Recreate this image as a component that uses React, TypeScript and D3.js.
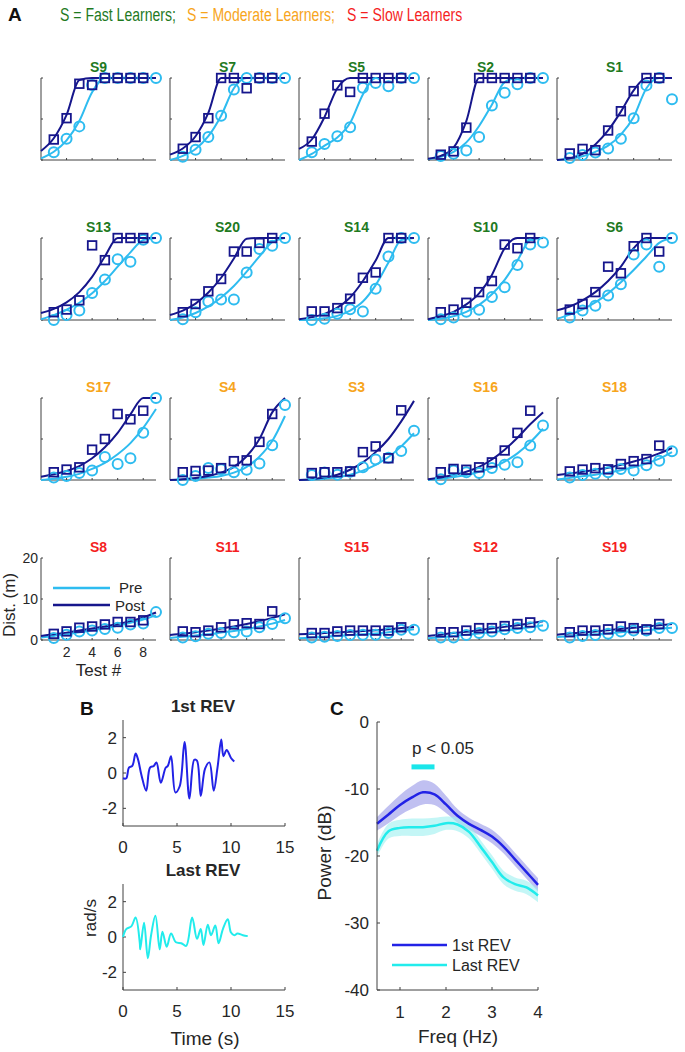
import React from "react";
import * as d3 from "d3";

// ---- panel A data ----
const subjects = ["S9", "S7", "S5", "S2", "S1", "S13", "S20", "S14", "S10", "S6", "S17", "S4", "S3", "S16", "S18", "S8", "S11", "S15", "S12", "S19"];
const learnerGroup = ["fast", "fast", "fast", "fast", "fast", "fast", "fast", "fast", "fast", "fast", "moderate", "moderate", "moderate", "moderate", "moderate", "slow", "slow", "slow", "slow", "slow"];
const testNums = [1, 2, 3, 4, 5, 6, 7, 8, 9];
const fitX = [0, 1, 2, 3, 4, 5, 6, 7, 8, 9];
const xTicks = [2, 4, 6, 8];
const yTicks = [0, 10, 20];

const prePoints = [
  [1.9, 5.2, 8.2, 18.3, 20, 20, 20, 20, 20],
  [0.8, 2.5, 5.6, 10.8, 17.2, 20, 20, 20, 20],
  [1.9, 3.9, 5.8, 8.0, 17.6, 18.8, 18.0, 20, 20],
  [1.0, 1.5, 2.3, 5.6, 13.3, 16.4, 18.5, 20, 20],
  [0.5, 1.2, 1.8, 2.8, 5.2, 10.2, 18.2, 20, 14.8],
  [0.0, 1.2, 2.3, 6.6, 9.9, 14.8, 14.2, 19.6, 20],
  [0.2, 1.9, 4.5, 5.0, 5.0, 11.6, 17.3, 18.1, 20],
  [0.0, 0.3, 1.5, 2.6, 2.1, 7.6, 15.5, 20, 20],
  [0.2, 0.6, 2.0, 2.5, 5.6, 8.0, 13.4, 18.4, 18.9],
  [0.6, 2.3, 3.5, 6.0, 8.7, 16.0, 18.4, 13.0, 20],
  [0.6, 1.0, 1.7, 2.3, 5.6, 3.9, 5.3, 11.5, 20],
  [0.0, 1.0, 2.9, 2.6, 1.9, 2.5, 4.0, 8.5, 18.3],
  [1.2, 1.8, 1.3, 2.0, 3.1, 5.0, 5.4, 7.1, 12.0],
  [0.2, 2.3, 1.9, 1.7, 2.9, 3.7, 4.3, 8.4, 13.3],
  [0.6, 1.2, 1.5, 1.9, 2.7, 2.3, 3.6, 4.7, 7.0],
  [0.5, 1.3, 2.1, 2.3, 2.7, 3.0, 3.8, 4.0, 6.8],
  [0.6, 0.9, 1.5, 1.7, 1.9, 2.1, 3.1, 3.9, 5.3],
  [0.6, 0.8, 1.0, 1.2, 1.3, 1.3, 1.7, 2.5, 2.5],
  [0.6, 0.6, 1.2, 1.7, 2.1, 2.6, 2.9, 3.1, 3.5],
  [0.6, 1.0, 1.2, 1.5, 2.1, 2.3, 2.3, 2.9, 2.9],
];

const postPoints = [
  [5.0, 10.2, 18.6, 18.3, 20, 20, 20, 20],
  [2.75, 5.6, 10.2, 20, 20, 17.5, 20, 20],
  [4.5, 11.3, 18.2, 16.6, 20, 20, 20, 20],
  [1.3, 2.1, 7.9, 20, 20, 20, 20, 20],
  [1.6, 2.7, 2.4, 7.2, 11.9, 16.8, 20, 20],
  [1.9, 2.55, 4.8, 18.2, 14.6, 20, 20, 20],
  [1.9, 3.9, 7.0, 10.0, 16.7, 16.7, 18.8, 20],
  [2.1, 2.1, 2.9, 5.2, 10.3, 11.6, 20, 20],
  [1.9, 2.55, 4.2, 6.8, 9.5, 18.4, 17.5, 20],
  [2.55, 3.9, 6.8, 13.0, 11.4, 18.0, 20, 16.7],
  [1.9, 2.55, 3.1, 7.4, 10.0, 16.1, 14.8, 16.9],
  [1.9, 2.2, 2.3, 2.9, 4.6, 4.8, 9.3, 16.1],
  [1.7, 1.9, 1.9, 2.1, 6.8, 8.2, 5.3, 17.0],
  [1.9, 2.7, 2.5, 3.1, 4.3, 7.2, 11.5, 16.9],
  [2.1, 2.55, 2.9, 2.6, 3.9, 4.6, 5.1, 8.4],
  [1.5, 2.1, 3.0, 3.3, 3.8, 4.4, 4.4, 4.8],
  [2.1, 1.9, 2.3, 3.1, 3.8, 4.1, 3.9, 7.0],
  [1.7, 1.7, 2.1, 2.3, 2.3, 2.3, 2.3, 3.1],
  [1.9, 1.9, 2.3, 2.9, 2.9, 3.4, 3.9, 4.3],
  [1.9, 2.3, 2.3, 2.6, 3.3, 2.9, 2.6, 3.9],
];

const preFit = [
  [0.4, 2.0, 4.8, 9.5, 16.5, 20, 20, 20, 20, 20],
  [0.0, 1.0, 2.7, 5.8, 10.8, 17.5, 20, 20, 20, 20],
  [0.0, 1.5, 3.5, 5.5, 9.0, 16.0, 20, 20, 20, 20],
  [0.2, 0.8, 2.0, 4.3, 8.3, 13.5, 19.0, 20, 20, 20],
  [0.0, 0.3, 0.9, 2.0, 3.5, 6.2, 10.5, 17.5, 20, 20],
  [0.2, 1.2, 2.5, 4.2, 6.5, 9.5, 13.0, 16.5, 19.5, 20],
  [0.0, 0.6, 1.7, 3.3, 5.5, 8.3, 11.8, 15.5, 19.0, 20],
  [0.0, 0.1, 0.4, 1.0, 2.3, 4.5, 8.5, 14.0, 19.5, 20],
  [0.0, 0.3, 0.9, 2.0, 3.7, 6.3, 9.8, 14.5, 19.5, 20],
  [0.3, 1.3, 2.6, 4.3, 6.5, 9.2, 12.2, 15.5, 18.8, 20],
  [0.0, 0.3, 0.8, 1.5, 2.7, 4.2, 6.3, 9.0, 12.7, 17.3],
  [0.0, 0.1, 0.3, 0.6, 1.0, 1.8, 3.2, 5.7, 9.5, 15.6],
  [0.0, 0.1, 0.3, 0.7, 1.3, 2.3, 3.7, 5.6, 8.2, 11.4],
  [0.0, 0.3, 0.7, 1.2, 2.0, 3.0, 4.5, 6.5, 9.2, 12.5],
  [0.1, 0.5, 0.9, 1.3, 1.8, 2.4, 3.1, 4.0, 5.2, 6.8],
  [0.6, 1.0, 1.4, 1.9, 2.4, 2.9, 3.5, 4.2, 5.0, 6.0],
  [0.5, 0.8, 1.1, 1.4, 1.8, 2.2, 2.7, 3.3, 4.0, 4.9],
  [0.4, 0.6, 0.8, 1.0, 1.2, 1.4, 1.6, 1.9, 2.2, 2.6],
  [0.4, 0.7, 1.0, 1.3, 1.6, 1.9, 2.3, 2.7, 3.1, 3.6],
  [0.7, 1.0, 1.2, 1.4, 1.6, 1.9, 2.1, 2.4, 2.7, 3.0],
];

const postFit = [
  [2.2, 5.3, 11.0, 19.5, 20, 20, 20, 20, 20, 20],
  [1.3, 2.8, 5.8, 11.5, 20, 20, 20, 20, 20, 20],
  [2.7, 5.0, 10.5, 17.5, 20, 20, 20, 20, 20, 20],
  [0.3, 1.0, 3.0, 9.5, 20, 20, 20, 20, 20, 20],
  [0.0, 0.4, 1.5, 3.8, 7.2, 11.8, 17.0, 20, 20, 20],
  [1.7, 2.7, 4.3, 6.8, 10.5, 15.5, 20, 20, 20, 20],
  [1.2, 2.3, 4.0, 6.7, 10.3, 15.0, 19.8, 20, 20, 20],
  [0.2, 0.7, 1.5, 3.0, 5.5, 9.5, 14.5, 20, 20, 20],
  [0.2, 0.9, 2.0, 3.8, 6.5, 11.0, 17.5, 20, 20, 20],
  [2.4, 3.3, 4.8, 6.8, 9.5, 13.0, 17.5, 20, 20, 20],
  [0.8, 1.4, 2.2, 3.4, 5.3, 8.0, 11.5, 16.0, 20, 20],
  [0.0, 0.2, 0.5, 1.0, 1.8, 3.2, 5.8, 10.0, 16.5, 20],
  [0.0, 0.2, 0.6, 1.3, 2.5, 4.3, 6.8, 10.0, 14.3, 19.3],
  [0.2, 0.6, 1.2, 2.0, 3.2, 5.0, 7.4, 10.3, 13.6, 16.5],
  [1.2, 1.6, 2.0, 2.5, 3.0, 3.7, 4.5, 5.4, 6.5, 7.8],
  [1.0, 1.4, 1.8, 2.3, 2.8, 3.3, 3.9, 4.6, 5.5, 6.7],
  [1.2, 1.5, 1.9, 2.3, 2.8, 3.3, 3.9, 4.6, 5.4, 6.3],
  [1.4, 1.5, 1.7, 1.8, 2.0, 2.2, 2.4, 2.6, 2.9, 3.2],
  [1.0, 1.3, 1.7, 2.0, 2.4, 2.8, 3.2, 3.6, 4.1, 4.6],
  [1.3, 1.6, 1.8, 2.1, 2.4, 2.7, 3.0, 3.3, 3.6, 3.9],
];

// ---- panel B data ----
const rev1Time = [0, 0.3, 0.55, 0.86, 1.17, 1.4, 1.7, 2.15, 2.5, 2.85, 3.1, 3.5, 3.95, 4.15, 4.45, 4.85, 5.25, 5.7, 6.15, 6.6, 6.85, 7.2, 7.6, 8.0, 8.4, 8.75, 9.1, 9.3, 9.6, 10.0, 10.3];
const rev1Vel = [-0.3, -0.3, 0.3, 0.4, 1.1, 0.75, -0.1, -1.0, 0.3, 0.4, 0.6, -0.55, 0.3, 0.4, 0.95, -1.1, -0.75, 1.75, -1.45, 0.75, 0.7, -1.3, 0.25, 0.6, -1.0, 0.3, 1.9, 0.95, 1.3, 0.85, 0.65];
const revLastTime = [0, 0.3, 0.77, 1.17, 1.55, 1.6, 1.95, 2.3, 2.6, 3.0, 3.4, 3.65, 4.05, 4.45, 4.9, 5.4, 5.85, 6.4, 6.85, 7.2, 7.45, 7.85, 8.15, 8.55, 8.85, 9.25, 9.7, 10.0, 10.3, 10.6, 11.1, 11.55];
const revLastVel = [0, 0.45, 0.6, 1.1, -0.3, -0.7, 0.8, -1.2, 0.1, 1.2, -0.7, 0.3, -0.55, 0.2, -0.3, -0.35, -0.5, 1.1, -0.1, 0.45, -0.45, 0.7, 0.1, 0.65, -0.35, 0.45, 1.0, 0.25, 0.1, 0.2, 0.1, 0.05];
const bXTicks = [0, 5, 10, 15];
const bYTicks = [-2, 0, 2];

// ---- panel C data ----
const freqs = [0.5, 0.75, 1.0, 1.25, 1.5, 1.75, 2.0, 2.25, 2.5, 2.75, 3.0, 3.25, 3.5, 3.75, 4.0];
const firstMean = [-15.2, -13.8, -12.4, -11.3, -10.5, -10.8, -12.3, -14.0, -15.2, -16.1, -17.1, -18.6, -20.5, -22.4, -24.3];
const firstSem = [1.0, 1.3, 1.5, 1.7, 1.8, 1.6, 1.3, 1.0, 0.9, 0.9, 1.0, 1.0, 1.0, 1.0, 1.0];
const lastMean = [-19.2, -16.3, -15.8, -15.7, -15.7, -15.5, -15.1, -15.3, -16.4, -18.6, -20.9, -23.2, -24.2, -24.7, -25.9];
const lastSem = [1.0, 1.1, 1.2, 1.3, 1.3, 1.2, 1.0, 1.0, 1.0, 1.0, 1.0, 1.0, 1.0, 1.0, 1.0];
const sigRange = [1.25, 1.75];
const cXTicks = [1, 2, 3, 4];
const cYTicks = [0, -10, -20, -30, -40];

const FONT = "'Liberation Sans', Arial, Helvetica, sans-serif";
const PRE = "#2ebcf0";
const POST = "#16168c";
const AXIS = "#404040";
const groupColor = { fast: "#1f7a1f", moderate: "#f7a51c", slow: "#f51f1f" };
const B1 = "#2222e6";
const B2 = "#22ecec";

function LearnPanel({ i }) {
  const x0 = 41 + (i % 5) * 129;
  const y0 = 78 + Math.floor(i / 5) * 160;
  const x = d3.scaleLinear().domain([0, 9]).range([x0, x0 + 115]);
  const y = d3.scaleLinear().domain([0, 20]).range([y0 + 82, y0]);
  const fit = d3.line().x((_, k) => x(fitX[k])).y(v => y(v)).curve(d3.curveMonotoneX);
  const isLabelled = subjects[i] === "S8";
  return (
    <g>
      <text x={x(4.5)} y={y0 - 6} textAnchor="middle" fontWeight="bold" fontSize={14} fill={groupColor[learnerGroup[i]]}>{subjects[i]}</text>
      <line x1={x(0)} x2={x(9)} y1={y(0)} y2={y(0)} stroke={AXIS} />
      <line x1={x(0)} x2={x(0)} y1={y(0)} y2={y(20)} stroke={AXIS} />
      {xTicks.map(t => <line key={"x" + t} x1={x(t)} x2={x(t)} y1={y(0)} y2={y(0) - 2} stroke={AXIS} />)}
      {yTicks.map(t => <line key={"y" + t} x1={x(0)} x2={x(0) + 2} y1={y(t)} y2={y(t)} stroke={AXIS} />)}
      {isLabelled && (
        <g fill="#262626" fontSize={14}>
          {yTicks.map(t => <text key={t} x={x(0) - 3} y={y(t) + 5} textAnchor="end">{t}</text>)}
          {xTicks.map(t => <text key={t} x={x(t)} y={y(0) + 17} textAnchor="middle">{t}</text>)}
          <text x={x(4.5)} y={y(0) + 36} textAnchor="middle" fontSize={17}>Test #</text>
          <text transform={`translate(${x0 - 26},${y(10) + 6}) rotate(-90)`} textAnchor="middle" fontSize={17}>Dist. (m)</text>
          <line x1={53} x2={110} y1={588} y2={588} stroke={PRE} strokeWidth={2.5} />
          <line x1={53} x2={110} y1={605} y2={605} stroke={POST} strokeWidth={2.5} />
          <text x={119} y={593} fontSize={15}>Pre</text>
          <text x={115} y={611} fontSize={15}>Post</text>
        </g>
      )}
      <path d={fit(preFit[i])} fill="none" stroke={PRE} strokeWidth={2} />
      <path d={fit(postFit[i])} fill="none" stroke={POST} strokeWidth={2} />
      {prePoints[i].map((v, k) => <circle key={"c" + k} cx={x(testNums[k])} cy={y(v)} r={5} fill="none" stroke={PRE} strokeWidth={2} />)}
      {postPoints[i].map((v, k) => <rect key={"s" + k} x={x(testNums[k]) - 4.3} y={y(v) - 4.3} width={8.6} height={8.6} fill="none" stroke={POST} strokeWidth={1.8} />)}
    </g>
  );
}

function RevPanel({ top, title, times, vels, color, showXLabel }) {
  const x = d3.scaleLinear().domain([0, 15]).range([123, 285]);
  const y = d3.scaleLinear().domain([-3, 3]).range([top + 106, top]);
  const line = d3.line().x((_, k) => x(times[k])).y(v => y(v)).curve(d3.curveCatmullRom);
  return (
    <g fill="#262626">
      <text x={203} y={top - 8} textAnchor="middle" fontWeight="bold" fontSize={17}>{title}</text>
      <line x1={x(0)} x2={x(15)} y1={y(-3)} y2={y(-3)} stroke={AXIS} />
      <line x1={x(0)} x2={x(0)} y1={y(-3)} y2={y(3)} stroke={AXIS} />
      {bXTicks.map(t => <g key={t}>
        <line x1={x(t)} x2={x(t)} y1={y(-3)} y2={y(-3) - 3} stroke={AXIS} />
        <text x={x(t)} y={y(-3) + 27} textAnchor="middle" fontSize={17}>{t}</text>
      </g>)}
      {bYTicks.map(t => <g key={t}>
        <line x1={x(0)} x2={x(0) + 3} y1={y(t)} y2={y(t)} stroke={AXIS} />
        <text x={x(0) - 6} y={y(t) + 6} textAnchor="end" fontSize={17}>{t}</text>
      </g>)}
      <path d={line(vels)} fill="none" stroke={color} strokeWidth={2} />
      {showXLabel && <text x={205} y={1045} textAnchor="middle" fontSize={19}>Time (s)</text>}
    </g>
  );
}

function PowerPanel() {
  const x = d3.scaleLinear().domain([0.5, 4]).range([377, 538]);
  const y = d3.scaleLinear().domain([-40, 0]).range([990, 722]);
  const line = d3.line().x((_, k) => x(freqs[k])).y(v => y(v)).curve(d3.curveCatmullRom);
  const band = (m, s) => d3.area().x((_, k) => x(freqs[k])).y0((v, k) => y(v - s[k])).y1((v, k) => y(v + s[k])).curve(d3.curveCatmullRom)(m);
  return (
    <g fill="#262626">
      <path d={band(firstMean, firstSem)} fill="#8c8ce6" fillOpacity={0.55} />
      <path d={band(lastMean, lastSem)} fill="#9cf0f0" fillOpacity={0.6} />
      <path d={line(firstMean)} fill="none" stroke={B1} strokeWidth={2.5} />
      <path d={line(lastMean)} fill="none" stroke={B2} strokeWidth={2.5} />
      <line x1={x(0.5)} x2={x(4)} y1={y(-40)} y2={y(-40)} stroke={AXIS} />
      <line x1={x(0.5)} x2={x(0.5)} y1={y(-40)} y2={y(0)} stroke={AXIS} />
      {cXTicks.map(t => <g key={t}>
        <line x1={x(t)} x2={x(t)} y1={y(-40)} y2={y(-40) - 3} stroke={AXIS} />
        <text x={x(t)} y={1018} textAnchor="middle" fontSize={17}>{t}</text>
      </g>)}
      {cYTicks.map(t => <g key={t}>
        <line x1={x(0.5)} x2={x(0.5) + 3} y1={y(t)} y2={y(t)} stroke={AXIS} />
        <text x={x(0.5) - 8} y={y(t) + 6} textAnchor="end" fontSize={17}>{t}</text>
      </g>)}
      <rect x={x(sigRange[0])} y={y(-6.7) - 2.5} width={x(sigRange[1]) - x(sigRange[0])} height={5} fill="#1ae6ea" />
      <text x={412} y={754} fontSize={17}>p &lt; 0.05</text>
      <line x1={392} x2={447} y1={945} y2={945} stroke={B1} strokeWidth={2.5} />
      <line x1={392} x2={447} y1={965} y2={965} stroke={B2} strokeWidth={2.5} />
      <text x={452} y={951} fontSize={16}>1st REV</text>
      <text x={452} y={971} fontSize={16}>Last REV</text>
      <text x={458} y={1043} textAnchor="middle" fontSize={19}>Freq (Hz)</text>
      <text transform={`translate(331,853) rotate(-90)`} textAnchor="middle" fontSize={19}>Power (dB)</text>
    </g>
  );
}

export default function App() {
  return (
    <svg width={685} height={1052} style={{ position: "absolute", left: 0, top: 0, background: "#fff" }} fontFamily={FONT}>
      <text x={8} y={21} fontWeight="bold" fontSize={19} fill="#111">A</text>
      <text transform="translate(60,21) scale(0.74,1)" fontSize={19} fill={groupColor.fast}>S = Fast Learners;</text>
      <text transform="translate(187,21) scale(0.74,1)" fontSize={19} fill={groupColor.moderate}>S = Moderate Learners;</text>
      <text transform="translate(347,21) scale(0.74,1)" fontSize={19} fill={groupColor.slow}>S = Slow Learners</text>
      {subjects.map((_, i) => <LearnPanel key={i} i={i} />)}
      <text x={80} y={715} fontWeight="bold" fontSize={19} fill="#111">B</text>
      <RevPanel top={720} title="1st REV" times={rev1Time} vels={rev1Vel} color={B1} showXLabel={false} />
      <RevPanel top={884} title="Last REV" times={revLastTime} vels={revLastVel} color={B2} showXLabel={true} />
      <text transform="translate(96,918) rotate(-90)" textAnchor="middle" fontSize={17} fill="#262626">rad/s</text>
      <text x={330} y={715} fontWeight="bold" fontSize={19} fill="#111">C</text>
      <PowerPanel />
    </svg>
  );
}
